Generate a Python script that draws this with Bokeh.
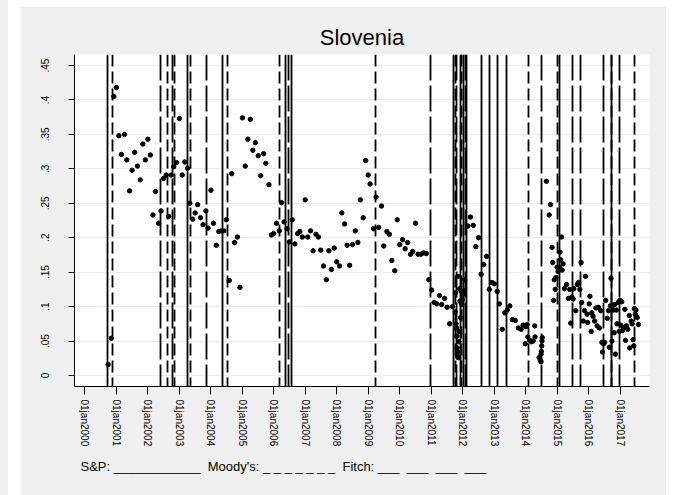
from bokeh.plotting import figure
from bokeh.models import FixedTicker, Div, Spacer, Title
from bokeh.layouts import row, column
from bokeh.embed import file_html
from bokeh.resources import INLINE

# Observations: decimal year and spread value
obs_year = [
    2000.75, 2000.85, 2000.93, 2001.01, 2001.09, 2001.17, 2001.27, 2001.34, 2001.43, 2001.51,
    2001.59, 2001.68, 2001.77, 2001.85, 2001.93, 2002.01, 2002.09, 2002.17, 2002.25, 2002.35,
    2002.43, 2002.51, 2002.59, 2002.67, 2002.75, 2002.83, 2002.92, 2003.01, 2003.10, 2003.18,
    2003.27, 2003.34, 2003.43, 2003.51, 2003.59, 2003.68, 2003.76, 2003.85, 2003.92, 2004.01,
    2004.09, 2004.18, 2004.26, 2004.35, 2004.42, 2004.50, 2004.59, 2004.67, 2004.76, 2004.85,
    2004.93, 2005.01, 2005.10, 2005.18, 2005.26, 2005.34, 2005.42, 2005.51, 2005.59, 2005.68,
    2005.75, 2005.85, 2005.93, 2006.00, 2006.09, 2006.18, 2006.25, 2006.33, 2006.42, 2006.50,
    2006.59, 2006.67, 2006.76, 2006.83, 2006.91, 2007.00, 2007.08, 2007.17, 2007.25, 2007.34,
    2007.42, 2007.49, 2007.58, 2007.67, 2007.75, 2007.83, 2007.92, 2008.00, 2008.09, 2008.16,
    2008.25, 2008.33, 2008.41, 2008.50, 2008.59, 2008.67, 2008.75, 2008.84, 2008.92, 2009.00,
    2009.06, 2009.17, 2009.25, 2009.33, 2009.42, 2009.49, 2009.59, 2009.67, 2009.75, 2009.84,
    2009.92, 2010.00, 2010.09, 2010.17, 2010.25, 2010.34, 2010.41, 2010.50, 2010.58, 2010.67,
    2010.75, 2010.84, 2010.92, 2011.01, 2011.09, 2011.17, 2011.26, 2011.33, 2011.42, 2011.50,
    2011.58, 2011.67, 2011.76, 2011.77, 2011.78, 2011.80, 2011.81, 2011.82, 2011.83, 2011.84,
    2011.85, 2011.86, 2011.87, 2011.88, 2011.90, 2011.91, 2011.93, 2011.94, 2011.95, 2011.97,
    2011.99, 2012.01, 2012.03, 2012.06, 2012.16, 2012.24, 2012.33, 2012.41, 2012.50, 2012.58,
    2012.66, 2012.75, 2012.84, 2012.92, 2013.00, 2013.09, 2013.16, 2013.25, 2013.33, 2013.41,
    2013.49, 2013.57, 2013.66, 2013.76, 2013.85, 2013.91, 2013.98, 2014.00, 2014.04, 2014.06,
    2014.12, 2014.17, 2014.23, 2014.28, 2014.29, 2014.42, 2014.46, 2014.48, 2014.48, 2014.49,
    2014.50, 2014.51, 2014.52, 2014.65, 2014.74, 2014.78, 2014.83, 2014.85, 2014.88, 2014.90,
    2014.93, 2014.95, 2014.99, 2015.02, 2015.06, 2015.08, 2015.10, 2015.13, 2015.15, 2015.18,
    2015.22, 2015.29, 2015.35, 2015.39, 2015.42, 2015.46, 2015.50, 2015.52, 2015.58, 2015.63,
    2015.67, 2015.71, 2015.75, 2015.77, 2015.82, 2015.86, 2015.89, 2015.94, 2015.96, 2016.01,
    2016.03, 2016.07, 2016.09, 2016.13, 2016.18, 2016.22, 2016.26, 2016.30, 2016.33, 2016.37,
    2016.41, 2016.43, 2016.46, 2016.50, 2016.53, 2016.58, 2016.62, 2016.65, 2016.68, 2016.70,
    2016.73, 2016.75, 2016.78, 2016.80, 2016.82, 2016.84, 2016.87, 2016.89, 2016.93, 2016.96,
    2016.98, 2017.01, 2017.04, 2017.06, 2017.10, 2017.14, 2017.16, 2017.19, 2017.23, 2017.28,
    2017.29, 2017.34, 2017.37, 2017.40, 2017.42, 2017.44, 2017.47, 2017.49, 2017.53, 2017.57,
]
obs_value = [
    0.016, 0.054, 0.405, 0.418, 0.348, 0.321, 0.350, 0.313, 0.268, 0.298,
    0.324, 0.304, 0.284, 0.336, 0.313, 0.343, 0.320, 0.233, 0.267, 0.221,
    0.239, 0.286, 0.291, 0.231, 0.291, 0.303, 0.309, 0.373, 0.291, 0.310,
    0.301, 0.250, 0.227, 0.236, 0.248, 0.229, 0.219, 0.239, 0.214, 0.269,
    0.221, 0.189, 0.209, 0.210, 0.210, 0.226, 0.138, 0.293, 0.193, 0.201,
    0.128, 0.374, 0.304, 0.343, 0.372, 0.327, 0.338, 0.319, 0.290, 0.322,
    0.308, 0.277, 0.204, 0.206, 0.221, 0.210, 0.251, 0.223, 0.213, 0.194,
    0.226, 0.191, 0.206, 0.209, 0.201, 0.255, 0.201, 0.210, 0.181, 0.205,
    0.201, 0.182, 0.159, 0.139, 0.181, 0.154, 0.185, 0.165, 0.159, 0.236,
    0.220, 0.189, 0.160, 0.190, 0.210, 0.193, 0.255, 0.229, 0.312, 0.291,
    0.278, 0.213, 0.259, 0.215, 0.246, 0.188, 0.209, 0.205, 0.167, 0.152,
    0.226, 0.190, 0.197, 0.184, 0.193, 0.176, 0.180, 0.221, 0.176, 0.176,
    0.178, 0.177, 0.139, 0.124, 0.106, 0.104, 0.116, 0.103, 0.112, 0.099,
    0.075, 0.100, 0.092, 0.120, 0.075, 0.069, 0.057, 0.040, 0.028, 0.034,
    0.144, 0.026, 0.049, 0.064, 0.126, 0.108, 0.084, 0.106, 0.122, 0.103,
    0.110, 0.118, 0.123, 0.139, 0.217, 0.230, 0.218, 0.187, 0.200, 0.147,
    0.161, 0.173, 0.125, 0.135, 0.133, 0.122, 0.104, 0.067, 0.091, 0.095,
    0.101, 0.081, 0.080, 0.069, 0.067, 0.073, 0.046, 0.071, 0.074, 0.056,
    0.051, 0.049, 0.050, 0.072, 0.056, 0.026, 0.022, 0.020, 0.031, 0.035,
    0.043, 0.050, 0.055, 0.282, 0.233, 0.248, 0.186, 0.164, 0.109, 0.139,
    0.125, 0.142, 0.157, 0.151, 0.157, 0.179, 0.168, 0.201, 0.153, 0.162,
    0.126, 0.132, 0.112, 0.125, 0.076, 0.114, 0.111, 0.126, 0.094, 0.132,
    0.135, 0.125, 0.164, 0.106, 0.079, 0.094, 0.144, 0.089, 0.077, 0.104,
    0.115, 0.064, 0.091, 0.086, 0.079, 0.098, 0.072, 0.099, 0.069, 0.094,
    0.048, 0.034, 0.046, 0.048, 0.109, 0.083, 0.094, 0.041, 0.101, 0.141,
    0.050, 0.102, 0.095, 0.062, 0.103, 0.031, 0.095, 0.075, 0.106, 0.064,
    0.109, 0.073, 0.107, 0.065, 0.069, 0.096, 0.051, 0.072, 0.067, 0.087,
    0.040, 0.079, 0.075, 0.052, 0.043, 0.097, 0.089, 0.095, 0.084, 0.074,
]

# Rating action dates by agency
sp_dates = [2000.72, 2003.26, 2004.37, 2006.39, 2006.55, 2011.71, 2011.91, 2012.02,
            2012.11, 2012.59, 2012.85, 2013.11, 2013.37, 2015.08, 2016.71]
moodys_dates = [2000.88, 2002.62, 2002.85, 2003.36, 2004.53, 2006.19, 2009.23, 2011.77,
                2011.96, 2014.07, 2015.00, 2016.73, 2017.45]
fitch_dates = [2002.41, 2002.80, 2003.87, 2006.46, 2010.97, 2011.81, 2012.07, 2014.49,
               2015.47, 2015.73, 2016.45, 2016.97]

year_ticks = list(range(2000, 2018))
year_labels = ["01jan%d" % y for y in year_ticks]
value_ticks = [0, 0.05, 0.1, 0.15, 0.2, 0.25, 0.3, 0.35, 0.4, 0.45]
value_labels = ["0", ".05", ".1", ".15", ".2", ".25", ".3", ".35", ".4", ".45"]

FONT = "Liberation Sans"
PANEL = "#efefef"
GAP = "\u00a0 "  # two-character gap that survives SVG whitespace collapsing

p = figure(
    frame_width=575, frame_height=332,
    x_range=(1999.683, 2017.92), y_range=(-0.016, 0.466),
    min_border_left=54, min_border_right=17, min_border_top=48, min_border_bottom=109,
    output_backend="svg", toolbar_location=None,
    background_fill_color="white", border_fill_color=PANEL,
    outline_line_color=None,
)

p.title.text = "Slovenia"
p.title.align = "center"
p.title.text_font = FONT
p.title.text_font_size = "22px"
p.title.text_font_style = "normal"
p.title.text_color = "black"
p.title.standoff = 9

# rating actions as vertical lines across the plot
p.vspan(x=sp_dates, line_color="black", line_width=1.8)
p.vspan(x=moodys_dates, line_color="black", line_width=1.8, line_dash="12 5")
p.vspan(x=fitch_dates, line_color="black", line_width=1.8, line_dash="26 5")

p.scatter(obs_year, obs_value, size=4.4, color="black")

p.xaxis.ticker = FixedTicker(ticks=year_ticks)
p.xaxis.major_label_overrides = dict(zip(year_ticks, year_labels))
p.yaxis.ticker = FixedTicker(ticks=value_ticks)
p.yaxis.major_label_overrides = dict(zip(value_ticks, value_labels))

for ax in (p.xaxis, p.yaxis):
    ax.major_label_orientation = "vertical"
    ax.major_label_text_font = FONT
    ax.major_label_text_font_size = "10px"
    ax.major_label_text_color = "black"
    ax.axis_line_color = "black"
    ax.major_tick_line_color = "black"
    ax.minor_tick_line_color = None
    ax.major_tick_in = 0

p.xaxis.major_tick_out = 8
p.xaxis.major_label_standoff = 5
p.yaxis.major_tick_out = 6
p.yaxis.major_label_standoff = 19

p.xgrid.visible = False
p.ygrid.ticker = FixedTicker(ticks=value_ticks)
p.ygrid.grid_line_color = "#e6eef0"
p.ygrid.grid_line_width = 1

note_text = ("S&P: ____________" + GAP + "Moody's: _ _ _ _ _ _ _" + GAP
             + "Fitch: ___" + GAP + "___" + GAP + "___" + GAP + "___")
note = Title(
    text=note_text,
    align="left", text_font=FONT, text_font_size="13px", text_font_style="normal",
    text_color="black", offset=6, standoff=15,
)
p.add_layout(note, "below")

strip = Div(width=8, height=495, margin=0, styles={"background-color": PANEL})
layout = row(
    strip,
    Spacer(width=12, height=495, margin=0),
    column(Spacer(width=646, height=6, margin=0), p, spacing=0),
    spacing=0,
)

with open("out.html", "w") as f:
    f.write(file_html(layout, INLINE))
